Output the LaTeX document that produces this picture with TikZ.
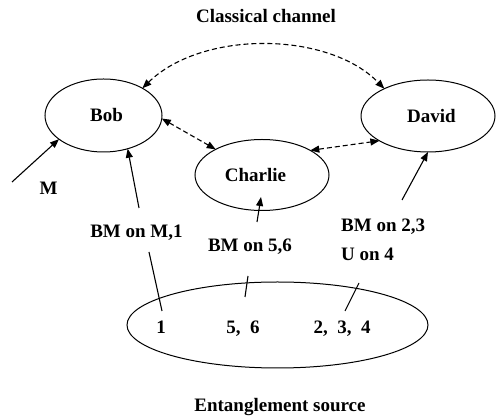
\documentclass[tikz,border=0pt]{standalone}
\usepackage{fontspec}
\setmainfont{Liberation Serif}
\usetikzlibrary{shapes.geometric,arrows.meta}
\tikzset{
  ell/.style={ellipse, draw, line width=1pt, inner sep=0pt, outer sep=0pt},
  txt/.style={font=\fontsize{19}{20}\selectfont\bfseries, inner sep=0pt, anchor=base},
  arr/.style={line width=1.1pt, -{Triangle[length=9pt,width=7pt]}},
  darr/.style={line width=1.1pt, dash pattern=on 5pt off 3pt, {Triangle[length=9pt,width=7pt]}-{Triangle[length=9pt,width=7pt]}},
  seg/.style={line width=1.1pt}
}
\begin{document}
\begin{tikzpicture}[x=1pt,y=-1pt]
\useasboundingbox (0,0) rectangle (496,419);
% ellipses
\node[ell, txt, anchor=center, minimum width=117pt, minimum height=73pt] (bob) at (103.5,115.5) {Bob\hspace*{-6pt}};
\node[ell, txt, anchor=center, minimum width=134pt, minimum height=72pt] (david) at (428,116) {David\hspace*{-7pt}};
\node[ell, txt, anchor=center, minimum width=134pt, minimum height=71pt] (charlie) at (262,175) {\hspace*{-13pt}Charlie};
\node[ell, minimum width=301pt, minimum height=86pt] (src) at (277.5,325) {};
% texts
\node[txt] (title) at (266,23) {Classical channel};
\node[txt] (ent) at (280,412) {Entanglement source};
\node[txt] (mlab) at (48.5,195) {M};
\node[txt] (l1) at (136.5,238) {BM on M,1};
\node[txt] (l56) at (250,252) {BM on 5,6};
\node[txt, anchor=base west] (l23) at (341,232) {BM on 2,3};
\node[txt, anchor=base west] (l4) at (341,261) {U on 4};
\node[txt] (n1) at (161,334) {1};
\node[txt] (n56) at (243,334) {5,\ \ 6};
\node[txt] (n234) at (342,334) {2,\ \ 3,\ \ 4};
% coordinates
\coordinate (m0) at (12,182);
\coordinate (p1) at (162,311);
\coordinate (p1b) at (149,252);
\coordinate (p1c) at (139,208);
\coordinate (p56) at (245,297);
\coordinate (p56b) at (248,276);
\coordinate (p56c) at (257,222);
\coordinate (c56) at (261,197);
\coordinate (p234) at (345,311);
\coordinate (p234b) at (359,283);
\coordinate (p234c) at (402,200);
% classical channel
\draw[darr] (bob.35) .. controls (202,30) and (328,31) .. (david.148);
\draw[darr] (bob.-3) -- (charlie.151);
\draw[darr] (charlie.27) -- (david.207);
% quantum lines
\draw[arr] (m0) -- (bob.208);
\draw[seg] (p1) -- (p1b);
\draw[arr] (p1c) -- (bob.306);
\draw[seg] (p56) -- (p56b);
\draw[arr] (p56c) -- (c56);
\draw[seg] (p234) -- (p234b);
\draw[arr] (p234c) -- (david.south);
\end{tikzpicture}
\end{document}
